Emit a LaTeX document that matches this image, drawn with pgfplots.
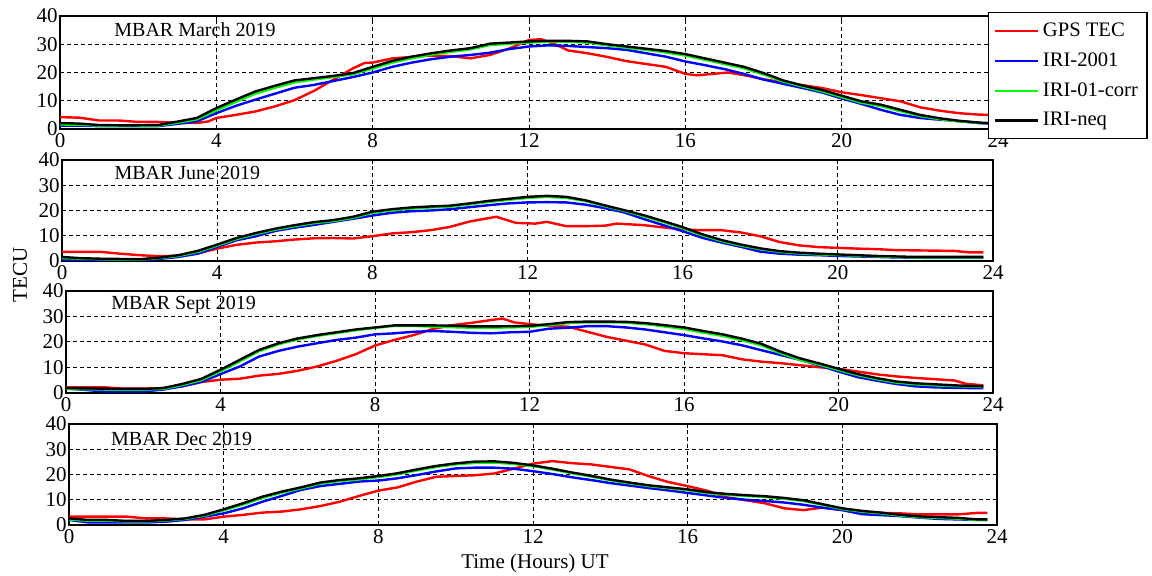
\documentclass[border=0pt]{standalone}
\usepackage{fontspec}
\setmainfont{Liberation Serif}
\usepackage{pgfplots}
\pgfplotsset{compat=1.18}

% one pixel of the reference = 0.5pt
\pgfplotsset{
  panel/.style={
    anchor=south west, scale only axis,
    xmin=0, xmax=24, ymin=0, ymax=40,
    xtick={0,4,...,24}, ytick={0,10,...,40},
    grid=major,
    major grid style={black, line width=0.5pt, dash pattern=on 2pt off 1.5pt},
    axis line style={line width=1pt},
    tick align=inside, major tick length=2pt,
    tick style={black, line width=0.5pt},
    every tick label/.append style={font=\fontsize{10.5}{12}\selectfont},
    /pgf/number format/assume math mode=true,
    yticklabel style={inner sep=1pt},
    xticklabel style={inner sep=2pt},
    legend image code/.code={\draw[#1] (0pt,0pt) -- (21.5pt,0pt);},
  },
  gps/.style={red, line width=1.2pt, line join=round},
  iri/.style={blue, line width=1.2pt, line join=round},
  corr/.style={green, line width=1.2pt, line join=round},
  neq/.style={black, line width=1.2pt, line join=round},
}
\newcommand{\paneltitle}[3]{\node[anchor=west, font=\fontsize{10}{12}\selectfont, inner sep=0pt] at (rel axis cs:#1,#2) {#3};}

\begin{document}
\begin{tikzpicture}
\useasboundingbox (0,0) rectangle (576pt,288pt);

% ---------------- March ----------------
\begin{axis}[panel, at={(30pt,223.5pt)}, width=469pt, height=56.5pt,
  legend style={at={(0.9893,1.035)}, anchor=north west, draw=black, line width=0.6pt,
    fill=white, font=\fontsize{10.3}{12}\selectfont, row sep=2.6pt,
    inner xsep=2.5pt, inner ysep=3pt, legend cell align=left,
    /tikz/every odd column/.append style={column sep=0pt}}]
\addplot[gps] coordinates {(0,4.2)(0.5,4.0)(1,3.0)(1.5,3.0)(2,2.5)(2.5,2.5)(3,2.2)(3.5,2.1)(3.8,2.7)(4,3.9)(4.5,5.0)(5,6.2)(5.5,8.0)(6,10.2)(6.5,13.5)(7,17.5)(7.5,21.5)(7.8,23.4)(8,23.5)(8.5,25.0)(9,25.5)(9.5,26.0)(10,25.8)(10.5,25.0)(11,26.2)(11.5,28.5)(12,31.5)(12.3,31.8)(12.7,29.8)(13,27.8)(13.5,26.8)(14,25.5)(14.5,24.0)(15,23.0)(15.5,22.0)(16,19.5)(16.3,19.0)(16.7,19.5)(17.1,20.0)(17.6,18.8)(18,17.6)(18.5,16.5)(19,15.5)(19.5,14.5)(20,13.0)(20.5,12.0)(21,10.9)(21.5,9.8)(22,7.7)(22.5,6.5)(23,5.6)(23.5,5.1)(23.75,5.0)};
\addplot[iri] coordinates {(0,1.2)(0.5,1.2)(1,1.0)(1.5,1.0)(2,1.0)(2.5,1.0)(3,1.8)(3.5,2.7)(4,5.6)(4.5,8.2)(5,10.4)(5.5,12.5)(6,14.6)(6.5,15.6)(7,17.0)(7.5,18.4)(8,20.0)(8.5,22.0)(9,23.5)(9.5,24.7)(10,25.6)(10.5,26.2)(11,27.0)(11.5,28.3)(12,29.2)(12.5,29.6)(13,29.4)(13.5,29.0)(14,28.6)(14.5,28.0)(15,26.8)(15.5,25.6)(16,23.9)(16.5,22.6)(17,21.2)(17.5,19.5)(18,17.5)(18.5,16.0)(19,14.5)(19.5,12.9)(20,10.8)(20.5,8.9)(21,6.8)(21.5,5.0)(22,3.9)(22.5,3.3)(23,2.8)(23.5,2.1)(23.75,1.9)};
\addplot[corr] coordinates {(0,1.6)(0.5,1.5)(1,1.2)(1.5,1.1)(2,1.1)(2.5,1.2)(3,2.2)(3.5,3.4)(4,6.6)(4.5,9.6)(5,12.5)(5.5,14.6)(6,16.5)(6.5,17.5)(7,18.4)(7.5,19.4)(8,21.4)(8.5,23.5)(9,25.0)(9.5,26.3)(10,27.3)(10.5,28.2)(11,29.7)(11.5,30.2)(12,30.6)(12.5,30.9)(13,30.9)(13.5,30.6)(14,29.6)(14.5,28.8)(15,28.0)(15.5,27.1)(16,26.0)(16.5,24.5)(17,23.0)(17.5,21.5)(18,19.3)(18.5,16.8)(19,15.0)(19.5,13.3)(20,11.3)(20.5,9.3)(21,8.1)(21.5,6.3)(22,4.6)(22.5,3.5)(23,2.7)(23.5,2.2)(23.75,2.0)};
\addplot[neq] coordinates {(0,2.1)(0.5,1.9)(1,1.4)(1.5,1.3)(2,1.3)(2.5,1.4)(3,2.6)(3.5,3.9)(4,7.4)(4.5,10.4)(5,13.3)(5.5,15.3)(6,17.2)(6.5,18.0)(7,18.8)(7.5,19.8)(8,22.0)(8.5,24.1)(9,25.6)(9.5,26.8)(10,27.8)(10.5,28.6)(11,30.2)(11.5,30.6)(12,31.0)(12.5,31.2)(13,31.2)(13.5,31.0)(14,30.0)(14.5,29.2)(15,28.4)(15.5,27.6)(16,26.5)(16.5,25.0)(17,23.5)(17.5,22.0)(18,19.8)(18.5,17.2)(19,15.4)(19.5,13.8)(20,11.8)(20.5,9.8)(21,8.6)(21.5,6.8)(22,5.0)(22.5,3.8)(23,2.9)(23.5,2.3)(23.75,2.1)};
\legend{GPS TEC, IRI-2001, IRI-01-corr, IRI-neq}
\paneltitle{0.0576}{0.876}{MBAR March 2019}
\end{axis}

% ---------------- June ----------------
\begin{axis}[panel, at={(31pt,157.5pt)}, width=465.5pt, height=50.5pt]
\addplot[gps] coordinates {(0,3.6)(0.5,3.6)(1,3.6)(1.5,2.9)(2,2.3)(2.5,1.9)(3,2.1)(3.5,3.0)(4,4.9)(4.5,6.4)(5,7.3)(5.5,7.8)(6,8.5)(6.5,9.0)(7,9.1)(7.5,8.9)(8,9.8)(8.5,10.9)(9,11.4)(9.5,12.2)(10,13.5)(10.5,15.6)(11,17.0)(11.2,17.5)(11.7,15.1)(12.2,14.8)(12.5,15.5)(13,13.8)(13.5,13.8)(14,14.0)(14.3,14.8)(15,14.2)(15.5,13.3)(16,12.5)(16.5,12.2)(17,12.2)(17.5,11.3)(18,9.8)(18.5,7.5)(19,6.2)(19.5,5.5)(20,5.2)(20.5,4.9)(21,4.7)(21.5,4.3)(22,4.2)(22.5,4.1)(23,4.0)(23.4,3.4)(23.75,3.4)};
\addplot[iri] coordinates {(0,0.5)(0.5,0.4)(1,0.3)(1.5,0.3)(2,0.3)(2.5,0.8)(3,1.6)(3.5,2.9)(4,5.6)(4.5,8.2)(5,9.8)(5.5,11.9)(6,13.2)(6.5,14.3)(7,15.5)(7.5,16.7)(8,18.0)(8.5,19.1)(9,19.7)(9.5,20.0)(10,20.5)(10.5,21.3)(11,22.1)(11.5,22.8)(12,23.2)(12.5,23.3)(13,23.2)(13.5,22.3)(14,20.9)(14.5,19.2)(15,16.6)(15.5,14.2)(16,11.8)(16.5,9.2)(17,7.3)(17.5,5.6)(18,3.7)(18.5,2.9)(19,2.5)(19.5,2.3)(20,2.0)(20.5,1.8)(21,1.6)(21.5,1.4)(22,1.3)(22.5,1.2)(23,1.2)(23.5,1.2)(23.75,1.2)};
\addplot[corr] coordinates {(0,1.2)(0.5,0.9)(1,0.7)(1.5,0.6)(2,0.6)(2.5,1.1)(3,2.0)(3.5,3.6)(4,6.1)(4.5,8.7)(5,10.7)(5.5,12.4)(6,13.8)(6.5,15.0)(7,15.8)(7.5,17.1)(8,19.1)(8.5,20.1)(9,20.8)(9.5,21.2)(10,21.5)(10.5,22.4)(11,23.4)(11.5,24.2)(12,25.0)(12.5,25.4)(13,25.0)(13.5,23.7)(14,21.7)(14.5,19.8)(15,17.7)(15.5,15.4)(16,13.0)(16.5,10.2)(17,7.9)(17.5,6.1)(18,4.7)(18.5,3.6)(19,3.0)(19.5,2.6)(20,2.4)(20.5,2.1)(21,1.8)(21.5,1.6)(22,1.4)(22.5,1.4)(23,1.4)(23.5,1.4)(23.75,1.4)};
\addplot[neq] coordinates {(0,1.6)(0.5,1.1)(1,0.9)(1.5,0.8)(2,0.7)(2.5,1.3)(3,2.3)(3.5,4.0)(4,6.5)(4.5,9.1)(5,11.1)(5.5,12.8)(6,14.2)(6.5,15.4)(7,16.2)(7.5,17.5)(8,19.5)(8.5,20.5)(9,21.2)(9.5,21.6)(10,21.9)(10.5,22.8)(11,23.8)(11.5,24.6)(12,25.4)(12.5,25.8)(13,25.4)(13.5,24.0)(14,22.0)(14.5,20.1)(15,18.1)(15.5,15.8)(16,13.4)(16.5,10.6)(17,8.3)(17.5,6.5)(18,5.0)(18.5,3.9)(19,3.3)(19.5,2.9)(20,2.6)(20.5,2.3)(21,2.0)(21.5,1.8)(22,1.6)(22.5,1.6)(23,1.6)(23.5,1.6)(23.75,1.6)};
\paneltitle{0.056}{0.87}{MBAR June 2019}
\end{axis}

% ---------------- September ----------------
\begin{axis}[panel, at={(33pt,91.5pt)}, width=463.5pt, height=51pt]
\addplot[gps] coordinates {(0,2.2)(0.5,2.2)(1,2.2)(1.5,1.7)(2,1.7)(2.5,1.9)(3,2.6)(3.5,4.3)(4,5.2)(4.5,5.6)(5,6.8)(5.5,7.5)(6,8.7)(6.5,10.4)(7,12.6)(7.5,15.2)(8,18.6)(8.5,20.8)(9,22.7)(9.5,25.1)(10,26.6)(10.5,27.5)(11,28.6)(11.3,29.2)(11.6,27.7)(12,27.0)(12.5,26.3)(13,26.0)(13.5,24.0)(14,22.0)(14.5,20.5)(15,19.0)(15.5,16.5)(16,15.6)(16.5,15.2)(17,14.8)(17.5,13.2)(18,12.3)(18.5,11.7)(19,10.9)(19.5,10.1)(20,9.5)(20.5,8.4)(21,7.3)(21.5,6.5)(22,5.9)(22.5,5.4)(23,4.9)(23.3,3.6)(23.75,3.0)};
\addplot[iri] coordinates {(0,1.7)(0.5,1.2)(1,0.6)(1.5,0.6)(2,0.6)(2.5,1.3)(3,2.6)(3.5,4.3)(4,7.4)(4.5,10.4)(5,14.3)(5.5,16.5)(6,18.2)(6.5,19.5)(7,20.8)(7.5,21.7)(8,23.0)(8.5,23.4)(9,24.0)(9.5,24.3)(10,24.0)(10.5,23.6)(11,23.4)(11.5,23.8)(12,24.0)(12.5,25.2)(13,25.6)(13.5,26.2)(14,26.2)(14.5,25.7)(15,24.9)(15.5,23.8)(16,22.7)(16.5,21.4)(17,20.2)(17.5,18.7)(18,16.8)(18.5,14.9)(19,13.0)(19.5,10.8)(20,8.4)(20.5,6.2)(21,4.8)(21.5,3.5)(22,2.6)(22.5,2.2)(23,2.0)(23.5,1.9)(23.75,1.9)};
\addplot[corr] coordinates {(0,1.6)(0.5,1.5)(1,1.4)(1.5,1.3)(2,1.3)(2.5,1.6)(3,3.1)(3.5,5.0)(4,8.5)(4.5,12.4)(5,16.4)(5.5,19.1)(6,21.0)(6.5,22.4)(7,23.5)(7.5,24.6)(8,25.5)(8.5,26.3)(9,26.3)(9.5,26.0)(10,25.8)(10.5,25.6)(11,25.6)(11.5,25.7)(12,25.9)(12.5,26.6)(13,27.4)(13.5,27.7)(14,27.7)(14.5,27.6)(15,27.0)(15.5,26.1)(16,25.1)(16.5,23.7)(17,22.4)(17.5,20.7)(18,18.7)(18.5,15.6)(19,13.0)(19.5,11.1)(20,9.0)(20.5,7.0)(21,5.4)(21.5,4.1)(22,3.4)(22.5,3.0)(23,2.7)(23.5,2.5)(23.75,2.4)};
\addplot[neq] coordinates {(0,1.9)(0.5,1.8)(1,1.7)(1.5,1.6)(2,1.6)(2.5,1.9)(3,3.5)(3.5,5.5)(4,9.1)(4.5,13.0)(5,16.9)(5.5,19.5)(6,21.4)(6.5,22.7)(7,23.8)(7.5,24.9)(8,25.7)(8.5,26.5)(9,26.5)(9.5,26.5)(10,26.4)(10.5,26.1)(11,26.1)(11.5,26.2)(12,26.3)(12.5,27.0)(13,27.8)(13.5,28.0)(14,28.0)(14.5,27.9)(15,27.4)(15.5,26.6)(16,25.7)(16.5,24.3)(17,23.0)(17.5,21.3)(18,19.3)(18.5,16.2)(19,13.6)(19.5,11.6)(20,9.5)(20.5,7.4)(21,5.8)(21.5,4.5)(22,3.8)(22.5,3.4)(23,3.0)(23.5,2.7)(23.75,2.6)};
\paneltitle{0.0485}{0.863}{MBAR Sept 2019}
\end{axis}

% ---------------- December ----------------
\begin{axis}[panel, at={(34.5pt,25.5pt)}, width=464pt, height=50.5pt]
\addplot[gps] coordinates {(0,3.3)(0.5,3.3)(1,3.3)(1.5,3.3)(2,2.6)(2.5,2.6)(3,2.2)(3.5,2.2)(4,3.3)(4.5,4.0)(5,4.9)(5.5,5.3)(6,6.2)(6.5,7.5)(7,9.2)(7.5,11.5)(8,13.6)(8.5,14.9)(9,17.2)(9.5,19.1)(10,19.4)(10.5,19.7)(11,20.4)(11.5,22.3)(12,24.3)(12.5,25.3)(13,24.5)(13.5,24.0)(14,23.0)(14.5,22.0)(15,19.3)(15.5,17.0)(16,15.4)(16.5,13.6)(17,11.0)(17.5,9.8)(18,8.6)(18.5,6.6)(19,5.9)(19.5,6.9)(20,5.9)(20.5,4.8)(21,4.8)(21.5,4.6)(22,4.2)(22.5,4.2)(23,4.2)(23.5,4.8)(23.75,4.8)};
\addplot[iri] coordinates {(0,2.0)(0.5,1.0)(1,1.0)(1.5,1.0)(2,1.0)(2.5,1.3)(3,2.0)(3.5,3.3)(4,4.6)(4.5,6.6)(5,9.2)(5.5,11.5)(6,13.9)(6.5,15.4)(7,16.3)(7.5,17.2)(8,17.6)(8.5,18.5)(9,19.8)(9.5,21.2)(10,22.4)(10.5,22.7)(11,22.7)(11.5,22.3)(12,21.3)(12.5,20.2)(13,18.9)(13.5,17.8)(14,16.6)(14.5,15.6)(15,14.6)(15.5,13.7)(16,12.7)(16.5,11.7)(17,10.7)(17.5,10.0)(18,9.5)(18.5,8.9)(19,8.0)(19.5,6.8)(20,5.9)(20.5,4.3)(21,3.9)(21.5,3.5)(22,2.9)(22.5,2.4)(23,2.2)(23.5,2.0)(23.75,2.0)};
\addplot[corr] coordinates {(0,2.2)(0.5,1.7)(1,1.7)(1.5,1.4)(2,1.4)(2.5,1.8)(3,2.4)(3.5,3.7)(4,5.8)(4.5,8.1)(5,10.7)(5.5,12.8)(6,14.5)(6.5,16.4)(7,17.4)(7.5,18.1)(8,19.0)(8.5,20.1)(9,21.6)(9.5,23.0)(10,24.0)(10.5,24.6)(11,24.7)(11.5,24.2)(12,23.3)(12.5,22.0)(13,20.5)(13.5,19.2)(14,17.7)(14.5,16.5)(15,15.4)(15.5,14.6)(16,13.8)(16.5,12.7)(17,12.0)(17.5,11.5)(18,11.1)(18.5,10.4)(19,9.5)(19.5,7.9)(20,6.3)(20.5,5.3)(21,4.6)(21.5,3.7)(22,3.1)(22.5,2.8)(23,2.5)(23.5,2.0)(23.75,2.0)};
\addplot[neq] coordinates {(0,2.6)(0.5,2.0)(1,2.0)(1.5,1.6)(2,1.6)(2.5,2.0)(3,2.6)(3.5,4.0)(4,6.2)(4.5,8.6)(5,11.2)(5.5,13.2)(6,14.9)(6.5,16.8)(7,17.8)(7.5,18.5)(8,19.4)(8.5,20.5)(9,22.0)(9.5,23.4)(10,24.4)(10.5,25.1)(11,25.2)(11.5,24.6)(12,23.6)(12.5,22.3)(13,20.8)(13.5,19.5)(14,18.0)(14.5,16.8)(15,15.7)(15.5,14.9)(16,14.1)(16.5,13.0)(17,12.3)(17.5,11.8)(18,11.4)(18.5,10.7)(19,9.8)(19.5,8.2)(20,6.6)(20.5,5.6)(21,4.9)(21.5,4.0)(22,3.4)(22.5,3.1)(23,2.8)(23.5,2.2)(23.75,2.2)};
\paneltitle{0.045}{0.85}{MBAR Dec 2019}
\end{axis}

\node[rotate=90, font=\fontsize{10.5}{12}\selectfont] at (10pt,150.5pt) {TECU};
\node[font=\fontsize{10.5}{12}\selectfont] at (267.5pt,6.5pt) {Time (Hours) UT};
\end{tikzpicture}
\end{document}
